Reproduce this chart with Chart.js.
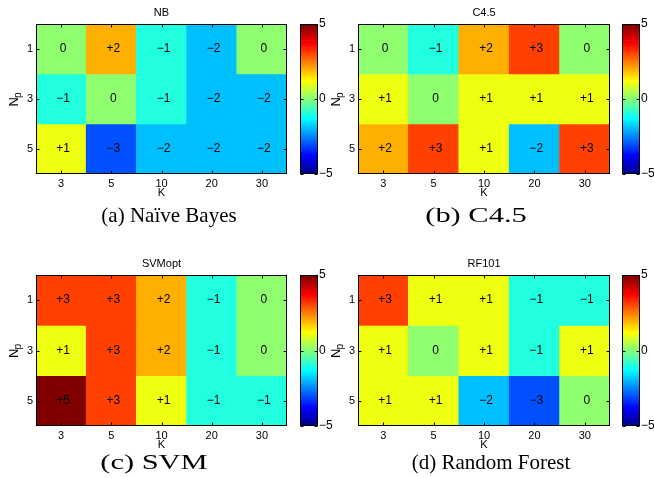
<!DOCTYPE html>
<html>
<head>
<meta charset="utf-8">
<script src="https://cdn.jsdelivr.net/npm/chart.js@4.4.1/dist/chart.umd.min.js"></script>
<style>
  html, body { margin:0; padding:0; background:#fff; }
  #page { position:relative; width:654px; height:478px; overflow:hidden; background:#fff; }
  canvas { position:absolute; }
  .cap { position:absolute; width:300px; text-align:center; font-family:"Liberation Serif", "DejaVu Serif", serif; font-size:21px; line-height:24px; color:#000; white-space:nowrap; transform-origin:50% 50%; }
</style>
</head>
<body>
<div id="page"></div>
<script>
// ---------- data ----------
const kLabels = ['3', '5', '10', '20', '30'];
const npLabels = ['1', '3', '5'];
const nbValues  = [[0, 2, -1, -2, 0], [-1, 0, -1, -2, -2], [1, -3, -2, -2, -2]];
const c45Values = [[0, -1, 2, 3, 0], [1, 0, 1, 1, 1], [2, 3, 1, -2, 3]];
const svmValues = [[3, 3, 2, -1, 0], [1, 3, 2, -1, 0], [5, 3, 1, -1, -1]];
const rfValues  = [[3, 1, 1, -1, -1], [1, 0, 1, -1, 1], [1, 1, -2, -3, 0]];
const panelTitles = ['NB', 'C4.5', 'SVMopt', 'RF101'];
const captions = ['(a) Naïve Bayes', '(b) C4.5', '(c) SVM', '(d) Random Forest'];
const colorMin = -5, colorMax = 5;
const colorbarTicks = [-5, 0, 5];
const xTitle = 'K';

// ---------- layout (pixels) ----------
const layouts = [
  { plot: [36, 24, 251, 150], cb: 300, cap: [169, 215], capScale: 1 },
  { plot: [358, 24, 252, 150], cb: 622, cap: [476, 215], capScale: 1.45 },
  { plot: [36, 275, 251, 151], cb: 300, cap: [154, 462], capScale: 1.45 },
  { plot: [358, 275, 252, 151], cb: 622, cap: [491, 462], capScale: 1 }
];
const allValues = [nbValues, c45Values, svmValues, rfValues];
const FONT = '"Liberation Sans", Arial, sans-serif';

// ---------- jet(64) colormap ----------
const JET_N = 64;
const jetU = [];
for (let i = 1; i <= 16; i++) jetU.push(i / 16);
for (let i = 0; i < 15; i++) jetU.push(1);
for (let i = 16; i >= 1; i--) jetU.push(i / 16);
function uAt(k) { return (k >= 1 && k <= jetU.length) ? jetU[k - 1] : 0; }
function jetRow(j) { // 1-based
  const r = uAt(j - 24), g = uAt(j - 8), b = uAt(j + 8);
  return 'rgb(' + Math.round(r * 255) + ',' + Math.round(g * 255) + ',' + Math.round(b * 255) + ')';
}
function colorFor(v) {
  let idx = Math.floor((v - colorMin) / (colorMax - colorMin) * JET_N);
  idx = Math.max(0, Math.min(JET_N - 1, idx));
  return jetRow(idx + 1);
}
function fmt(v) { return v > 0 ? '+' + v : (v < 0 ? '\u2212' + Math.abs(v) : '0'); }

const page = document.getElementById('page');
function makeCanvas(left, top, w, h) {
  const c = document.createElement('canvas');
  c.width = w; c.height = h;
  c.style.left = left + 'px'; c.style.top = top + 'px';
  c.style.width = w + 'px'; c.style.height = h + 'px';
  page.appendChild(c);
  return c;
}

const PAD_L = 36, PAD_T = 24, PAD_R = 4, AX_H = 30;

function heatPlugin(values, title) {
  return {
    id: 'heatDeco',
    afterDatasetsDraw(chart) {
      const ctx = chart.ctx, a = chart.chartArea;
      const xs = chart.scales.x, ys = chart.scales.y;
      ctx.save();
      // cell labels
      ctx.fillStyle = '#000';
      ctx.font = '12px ' + FONT;
      ctx.textAlign = 'center';
      ctx.textBaseline = 'middle';
      values.forEach((row, r) => {
        row.forEach((v, c) => {
          ctx.fillText(fmt(v), xs.getPixelForValue(c) + 2, ys.getPixelForValue(r + 1));
        });
      });
      // frame
      ctx.strokeStyle = '#000';
      ctx.lineWidth = 1;
      const L = Math.round(a.left) + 0.5, T = Math.round(a.top) + 0.5;
      const R = Math.round(a.right) - 0.5, B = Math.round(a.bottom) - 0.5;
      ctx.strokeRect(L, T, R - L, B - T);
      // inward ticks
      ctx.beginPath();
      kLabels.forEach((_, c) => {
        const x = Math.round(xs.getPixelForValue(c)) + 0.5;
        ctx.moveTo(x, T); ctx.lineTo(x, T + 3);
        ctx.moveTo(x, B); ctx.lineTo(x, B - 3);
      });
      npLabels.forEach((_, r) => {
        const y = Math.round(ys.getPixelForValue(r + 1)) + 0.5;
        ctx.moveTo(L, y); ctx.lineTo(L + 3, y);
        ctx.moveTo(R, y); ctx.lineTo(R - 3, y);
      });
      ctx.stroke();
      // title
      ctx.font = '11px ' + FONT;
      ctx.textBaseline = 'middle';
      ctx.fillText(title, (a.left + a.right) / 2, a.top - 11);
      // N_p y-axis title
      ctx.translate(a.left - 23, (a.top + a.bottom) / 2);
      ctx.rotate(-Math.PI / 2);
      ctx.font = '13px ' + FONT;
      const wN = ctx.measureText('N').width;
      ctx.font = '10px ' + FONT;
      const wp = ctx.measureText('p').width;
      const x0 = -(wN + wp) / 2;
      ctx.textAlign = 'left';
      ctx.textBaseline = 'alphabetic';
      ctx.font = '13px ' + FONT;
      ctx.fillText('N', x0, 5);
      ctx.font = '10px ' + FONT;
      ctx.fillText('p', x0 + wN - 1, 8);
      ctx.restore();
    }
  };
}

const cbPlugin = {
  id: 'cbDeco',
  afterDatasetsDraw(chart) {
    const ctx = chart.ctx, a = chart.chartArea, ys = chart.scales.y;
    ctx.save();
    ctx.strokeStyle = '#000';
    ctx.lineWidth = 1;
    const L = Math.round(a.left) + 0.5, T = Math.round(a.top) + 0.5;
    const R = Math.round(a.right) - 0.5, B = Math.round(a.bottom) - 0.5;
    ctx.strokeRect(L, T, R - L, B - T);
    ctx.beginPath();
    colorbarTicks.forEach(t => {
      const y = Math.round(ys.getPixelForValue(t)) + 0.5;
      ctx.moveTo(L, y); ctx.lineTo(L + 3, y);
      ctx.moveTo(R, y); ctx.lineTo(R - 3, y);
    });
    ctx.stroke();
    ctx.restore();
  }
};

layouts.forEach((lay, p) => {
  const [pl, pt, pw, ph] = lay.plot;
  const values = allValues[p];
  // heatmap
  const hc = makeCanvas(pl - PAD_L, pt - PAD_T, pw + PAD_L + PAD_R, ph + PAD_T + AX_H);
  const datasets = npLabels.map((_, r) => ({
    data: kLabels.map(() => [r + 0.5, r + 1.5]),
    backgroundColor: values[r].map(colorFor),
    borderWidth: 0,
    grouped: false,
    barPercentage: 1,
    categoryPercentage: 1
  }));
  new Chart(hc, {
    type: 'bar',
    data: { labels: kLabels, datasets },
    options: {
      responsive: false,
      animation: false,
      layout: { padding: { left: 0, top: PAD_T, right: PAD_R, bottom: 0 } },
      plugins: { legend: { display: false }, tooltip: { enabled: false } },
      scales: {
        x: {
          type: 'category',
          grid: { display: false, drawTicks: false },
          border: { display: false },
          ticks: { color: '#000', font: { family: FONT, size: 11 }, padding: 3, maxRotation: 0 },
          title: { display: true, text: xTitle, color: '#000', font: { family: FONT, size: 11 }, padding: { top: 0, bottom: 4 } },
          afterFit: s => { s.height = AX_H; }
        },
        y: {
          type: 'linear',
          min: 0.5, max: 3.5,
          reverse: true,
          grid: { display: false, drawTicks: false },
          border: { display: false },
          afterBuildTicks: s => { s.ticks = npLabels.map((_, i) => ({ value: i + 1 })); },
          ticks: { color: '#000', font: { family: FONT, size: 11 }, padding: 3,
                   callback: v => npLabels[v - 1] },
          afterFit: s => { s.width = PAD_L; }
        }
      }
    },
    plugins: [heatPlugin(values, panelTitles[p])]
  });

  // colorbar
  const cbW = 18, cbAxis = 20, cbPadL = 2;
  const cc = makeCanvas(lay.cb - cbPadL, pt - PAD_T, cbPadL + cbW + cbAxis, ph + PAD_T + AX_H);
  const bands = [];
  for (let i = 0; i < JET_N; i++) {
    const lo = colorMin + i * (colorMax - colorMin) / JET_N;
    const hi = colorMin + (i + 1) * (colorMax - colorMin) / JET_N;
    bands.push({
      data: [[lo, hi]],
      backgroundColor: jetRow(i + 1),
      borderWidth: 0, grouped: false, barPercentage: 1, categoryPercentage: 1
    });
  }
  new Chart(cc, {
    type: 'bar',
    data: { labels: [''], datasets: bands },
    options: {
      responsive: false,
      animation: false,
      layout: { padding: { left: cbPadL, top: PAD_T, right: 0, bottom: AX_H } },
      plugins: { legend: { display: false }, tooltip: { enabled: false } },
      scales: {
        x: { display: false },
        y: {
          position: 'right',
          type: 'linear', min: colorMin, max: colorMax,
          grid: { display: false, drawTicks: false },
          border: { display: false },
          afterBuildTicks: s => { s.ticks = colorbarTicks.map(v => ({ value: v })); },
          ticks: { color: '#000', font: { family: FONT, size: 12 }, padding: 1,
                   callback: v => v < 0 ? '\u2212' + Math.abs(v) : String(v) },
          afterFit: s => { s.width = cbAxis; }
        }
      }
    },
    plugins: [cbPlugin]
  });

  // caption
  const d = document.createElement('div');
  d.className = 'cap';
  d.textContent = captions[p];
  d.style.left = (lay.cap[0] - 150) + 'px';
  d.style.top = (lay.cap[1] - 12) + 'px';
  d.style.transform = 'scaleX(' + lay.capScale + ')';
  page.appendChild(d);
});
</script>
</body>
</html>
